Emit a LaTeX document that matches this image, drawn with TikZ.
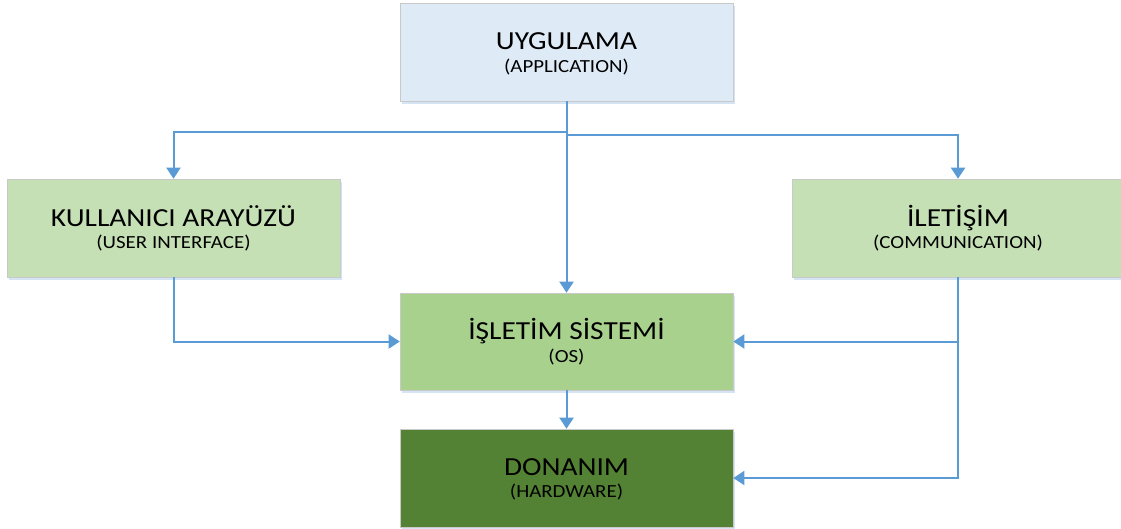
\documentclass[tikz,border=0pt]{standalone}
\usepackage{fontspec}
\setmainfont{Carlito}[FakeStretch=1.13]
\usetikzlibrary{arrows.meta,shadows}
\definecolor{appblue}{HTML}{DEEBF7}
\definecolor{sidegreen}{HTML}{C5E0B4}
\definecolor{osgreen}{HTML}{A9D18E}
\definecolor{hwgreen}{HTML}{548235}
\definecolor{boxedge}{HTML}{C9C9C9}
\definecolor{shadowblue}{HTML}{D5E4F4}
\definecolor{linkblue}{HTML}{5B9BD5}
\begin{document}
\begin{tikzpicture}[x=1pt,y=-1pt,
  box/.style={draw=boxedge, line width=0.6pt, minimum width=333pt,
    minimum height=98pt, inner sep=0pt,
    drop shadow={shadow xshift=1.5pt, shadow yshift=-3pt, fill=shadowblue, opacity=1}},
  title/.style={anchor=base, inner sep=0pt, font=\fontsize{26}{26}\selectfont},
  sub/.style={anchor=base, inner sep=0pt, font=\fontsize{18.5}{18.5}\selectfont},
  link/.style={draw=linkblue, line width=2pt, -{Triangle[width=14pt,length=11pt]}}]
\useasboundingbox (0,0) rectangle (1121,528);

% boxes
\node[box, fill=appblue] (app) at (566.5,52) {};
\node[box, fill=sidegreen] (ui) at (173.5,228) {};
\node[box, fill=sidegreen, minimum width=332pt] (com) at (958,228) {};
\node[box, fill=osgreen, minimum height=97pt] (os) at (566.5,341.5) {};
\node[box, fill=hwgreen] (hw) at (566.5,478) {};

% labels
\node[title] (appT) at (566.5,49) {UYGULAMA};
\node[sub] (appS) at (566.5,72) {(APPLICATION)};
\node[title] (uiT) at (173.5,226) {KULLANICI ARAYÜZÜ};
\node[sub] (uiS) at (173.5,248) {(USER INTERFACE)};
\node[title] (comT) at (958,226) {İLETİŞİM};
\node[sub] (comS) at (958,248) {(COMMUNICATION)};
\node[title] (osT) at (566.5,339) {İŞLETİM SİSTEMİ};
\node[sub] (osS) at (566.5,362) {(OS)};
\node[title] (hwT) at (566.5,475) {DONANIM};
\node[sub] (hwS) at (566.5,497) {(HARDWARE)};

% connectors
\coordinate (jl) at (566.5,132);
\coordinate (jr) at (566.5,135);
\coordinate (cj) at (com.south |- os.east);
\draw[link] (app) -- (os);
\draw[link] (jl) -| (ui.north);
\draw[link] (jr) -| (com.north);
\draw[link] (ui.south) |- (os.west);
\draw[link] (com.south) |- (hw.east);
\draw[link] (cj) -- (os.east);
\draw[link] (os) -- (hw);
\end{tikzpicture}
\end{document}
